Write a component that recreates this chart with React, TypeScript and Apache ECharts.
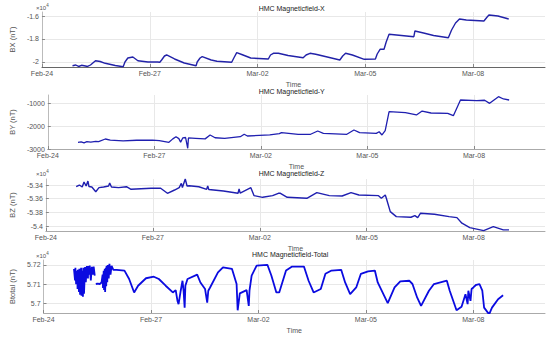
import React, { useEffect, useRef } from "react";
import * as echarts from "echarts";

// Time axis: days since 2023-02-24 00:00
const BASE_UTC = Date.UTC(2023, 1, 24);
const MONTHS = ["Jan","Feb","Mar","Apr","May","Jun","Jul","Aug","Sep","Oct","Nov","Dec"];
const xTicks = [0, 3, 6, 9, 12];

const titles = ["HMC Magneticfield-X", "HMC Magneticfield-Y", "HMC Magneticfield-Z", "HMC Magneticfield-Total"];
const yNames = ["BX (nT)", "BY (nT)", "BZ (nT)", "Btotal (nT)"];

// BX (nT)
const bxDays = [0.85,0.94,1.02,1.10,1.21,1.27,1.35,1.49,1.62,1.76,2.04,2.26,2.31,2.39,2.53,2.67,2.95,3.22,3.28,3.33,3.41,3.47,3.69,3.96,4.29,4.32,4.40,4.46,4.71,4.87,5.28,5.34,5.42,5.56,5.81,6.30,6.36,6.44,6.58,6.85,7.27,7.35,7.46,7.62,8.29,8.37,8.45,8.64,8.97,9.28,9.33,9.41,9.52,9.58,9.66,10.35,10.38,10.62,10.90,11.31,11.40,11.51,11.62,11.81,12.30,12.39,12.44,12.69,12.99];
const bxValues = [-20322,-20261,-20391,-20287,-20348,-20391,-20261,-19887,-19957,-20113,-20304,-20409,-20000,-19652,-19565,-19887,-20000,-20000,-20026,-19826,-19478,-19391,-19739,-20087,-20322,-20000,-19652,-19539,-19826,-19939,-20026,-19652,-19191,-19348,-19652,-19739,-19391,-19243,-19243,-19435,-19626,-19391,-19243,-19330,-19826,-19478,-19243,-19391,-19765,-19739,-19304,-18896,-18896,-18261,-17591,-17800,-17304,-17478,-17696,-17887,-17217,-16609,-16261,-16348,-16435,-16087,-15913,-16000,-16261];
const bxTicks = [-20000, -18000, -16000];

// BY (nT)
const byDays = [0.85,0.94,1.02,1.10,1.21,1.35,1.43,1.62,1.76,2.12,2.50,2.95,3.14,3.41,3.52,3.61,3.69,3.74,3.80,3.88,3.94,3.96,4.16,4.43,4.57,4.71,4.98,5.42,5.53,5.62,6.25,6.52,6.58,7.05,7.40,7.60,7.76,8.42,8.62,8.78,9.25,9.33,9.41,9.50,9.61,10.07,10.38,10.54,10.79,11.26,11.42,11.62,12.08,12.30,12.44,12.69,12.83,12.99];
const byValues = [-2710,-2690,-2730,-2680,-2700,-2670,-2680,-2565,-2610,-2650,-2620,-2610,-2640,-2710,-2560,-2465,-2550,-2700,-2520,-2500,-2970,-2520,-2535,-2560,-2390,-2510,-2535,-2465,-2360,-2435,-2390,-2335,-2290,-2360,-2360,-2217,-2320,-2360,-2175,-2290,-2320,-2250,-2390,-2200,-1377,-1420,-1520,-1350,-1435,-1450,-1550,-870,-900,-880,-1015,-725,-825,-870];
const byTicks = [-3000, -2000, -1000];

// BZ (nT)
const bzDays = [0.85,0.94,1.02,1.07,1.13,1.18,1.21,1.29,1.40,1.49,1.62,1.76,1.79,1.84,2.04,2.26,2.39,2.95,3.22,3.41,3.61,3.74,3.80,3.83,3.91,3.96,4.02,4.29,4.51,4.54,4.57,4.98,5.39,5.42,5.45,5.75,5.84,6.08,6.36,6.52,6.58,6.77,7.32,7.60,7.95,8.31,8.56,8.78,9.33,9.41,9.52,9.55,9.66,9.83,10.24,10.35,10.43,10.51,10.90,11.31,11.53,11.67,11.89,12.28,12.55,12.83,12.99];
const bzValues = [-53425,-53400,-53429,-53356,-53415,-53342,-53422,-53429,-53498,-53439,-53429,-53415,-53371,-53429,-53439,-53425,-53463,-53448,-53448,-53521,-53473,-53439,-53375,-53436,-53312,-53415,-53410,-53425,-53463,-53415,-53466,-53488,-53521,-53458,-53517,-53439,-53556,-53580,-53556,-53521,-53521,-53580,-53594,-53512,-53556,-53561,-53512,-53546,-53556,-53594,-53546,-53594,-53790,-53863,-53872,-53848,-53877,-53813,-53828,-53863,-53877,-53959,-54023,-54067,-54009,-54057,-54057];
const bzTicks = [-54000, -53800, -53600, -53400];

// Btotal (nT)
const btDays = [0.85,0.88,0.89,0.91,0.94,0.95,0.96,0.99,1.00,1.02,1.05,1.06,1.07,1.10,1.11,1.13,1.16,1.18,1.21,1.24,1.25,1.27,1.29,1.32,1.35,1.38,1.40,1.43,1.44,1.46,1.51,1.57,1.62,1.65,1.66,1.68,1.69,1.71,1.72,1.74,1.75,1.76,1.78,1.79,1.82,1.84,1.87,1.90,1.95,2.04,2.26,2.39,2.53,2.64,2.86,3.08,3.22,3.41,3.61,3.69,3.74,3.77,3.83,3.88,3.91,3.94,3.96,4.02,4.29,4.38,4.51,4.57,4.60,4.65,4.87,5.01,5.26,5.39,5.42,5.48,5.67,5.73,5.75,5.81,5.95,6.25,6.36,6.50,6.58,6.77,6.94,7.27,7.40,7.54,7.74,7.87,8.04,8.31,8.42,8.56,8.73,8.86,9.06,9.25,9.33,9.61,9.80,9.96,10.21,10.30,10.43,10.54,10.76,10.90,11.26,11.34,11.53,11.67,11.78,11.84,11.86,11.92,11.95,12.00,12.08,12.17,12.25,12.30,12.44,12.52,12.69,12.83,12.99];
const btValues = [57180,57120,57185,57100,57170,57075,57175,57060,57180,57045,57185,57040,57170,57035,57185,57050,57190,57110,57195,57130,57195,57150,57197,57120,57190,57150,57192,57145,null,57101,57103,57101,57109,57150,57080,57170,57070,57180,57060,57185,57090,57195,57110,57200,57130,57206,57150,57195,57175,57175,57171,57127,57057,57092,57131,57139,57127,57092,57057,57069,57013,56996,57066,57118,57066,56978,57092,57127,57150,57109,57075,57004,57066,57083,57162,57188,57180,57101,56964,57052,57069,56987,57066,57145,57197,57201,57145,57057,57057,57171,57192,57192,57118,57057,57075,57154,57171,57175,57109,57048,57083,57154,57167,57171,57109,57001,57083,57115,57118,57101,57031,56987,57066,57101,57118,57066,56964,56982,57048,56996,57066,57013,57075,57083,57097,57101,57066,56978,56943,56978,57022,57042];
const btTicks = [57000, 57100, 57200];

const daysList = [bxDays, byDays, bzDays, btDays];
const valuesList = [bxValues, byValues, bzValues, btValues];
const yTicksList = [bxTicks, byTicks, bzTicks, btTicks];
const yRanges: [number, number][] = [[-20435, -15652], [-3000, -652], [-54073, -53312], [56950, 57226]];
const scaled = [true, false, true, true];

const gridTops = [12, 95, 179, 260];
const gridHeights = [55, 54, 52, 53];
const yNameGaps = [18, 23, 23, 19];
const lineColors = ["#2222a8", "#1f1fb0", "#1f1fb0", "#0b0be0"];
const lineWidths = [1.4, 1.3, 1.4, 1.8];

const FONT = "Liberation Sans, Arial, sans-serif";

function dayLabel(v: number): string {
  const d = new Date(BASE_UTC + v * 86400000);
  const dd = String(d.getUTCDate()).padStart(2, "0");
  return MONTHS[d.getUTCMonth()] + "-" + dd;
}

export default function App() {
  const ref = useRef<HTMLDivElement>(null);
  useEffect(() => {
    if (!ref.current) return;
    const chart = echarts.init(ref.current, undefined, { renderer: "svg" });
    const grids = gridTops.map((t, i) => ({ left: 36, right: 5, top: t, height: gridHeights[i] }));
    const xAxes = gridTops.map((_, i) => ({
      type: "value",
      gridIndex: i,
      min: 0,
      max: 14,
      name: "Time",
      nameLocation: "middle",
      nameGap: 14,
      nameTextStyle: { fontSize: 7, color: "#555", fontFamily: FONT },
      axisLine: { show: true, lineStyle: { color: i === 0 ? "#666" : "#aaa", width: 1 } },
      axisTick: { show: true, inside: true, length: 3, lineStyle: { color: "#888" }, customValues: xTicks },
      axisLabel: { fontSize: 7, color: "#555", fontFamily: FONT, margin: 3, customValues: xTicks, formatter: (v: number) => dayLabel(v) },
      splitLine: { show: true, lineStyle: { color: "#e8e8e8", width: 1 } },
    }));
    const yAxes = gridTops.map((_, i) => ({
      type: "value",
      gridIndex: i,
      min: yRanges[i][0],
      max: yRanges[i][1],
      name: yNames[i],
      nameLocation: "middle",
      nameGap: yNameGaps[i],
      nameTextStyle: { fontSize: 7.5, color: "#555", fontFamily: FONT },
      axisLine: { show: true, lineStyle: { color: "#bbb", width: 1 } },
      axisTick: { show: true, inside: true, length: 3, lineStyle: { color: "#888" }, customValues: yTicksList[i] },
      axisLabel: {
        fontSize: 7,
        color: "#555",
        fontFamily: FONT,
        margin: 3,
        customValues: yTicksList[i],
        formatter: (v: number) => (scaled[i] ? String(parseFloat((v / 1e4).toFixed(3))) : String(v)),
      },
      splitLine: { show: true, lineStyle: { color: "#e8e8e8", width: 1 } },
    }));
    const series = gridTops.map((_, i) => ({
      type: "line",
      xAxisIndex: i,
      yAxisIndex: i,
      showSymbol: false,
      connectNulls: false,
      lineStyle: { color: lineColors[i], width: lineWidths[i] },
      itemStyle: { color: lineColors[i] },
      data: daysList[i].map((d, k) => [d, valuesList[i][k]]),
    }));
    const titleEls = gridTops.map((t, i) => ({
      type: "text",
      left: 290 - titles[i].length * 1.65,
      top: t - (i === 0 ? 7 : i === 1 ? 7 : 9),
      style: { text: titles[i], fontSize: 7, fill: "#222", fontFamily: FONT },
    }));
    const expEls = [0, 2, 3].map((i) => ({
      type: "text",
      left: 36,
      top: gridTops[i] - (i === 0 ? 9 : i === 2 ? 10 : 9),
      style: {
        text: "×10{s|4}",
        fontSize: 6,
        fill: "#555",
        fontFamily: FONT,
        rich: { s: { fontSize: 4.5, verticalAlign: "top", padding: [0, 0, 4, 0], fill: "#555" } },
      },
    }));
    chart.setOption({
      animation: false,
      backgroundColor: "#fff",
      grid: grids,
      xAxis: xAxes,
      yAxis: yAxes,
      series,
      graphic: [...titleEls, ...expEls],
    });
    return () => chart.dispose();
  }, []);
  return <div ref={ref} style={{ position: "fixed", left: 0, top: 0, width: 550, height: 337 }} />;
}
